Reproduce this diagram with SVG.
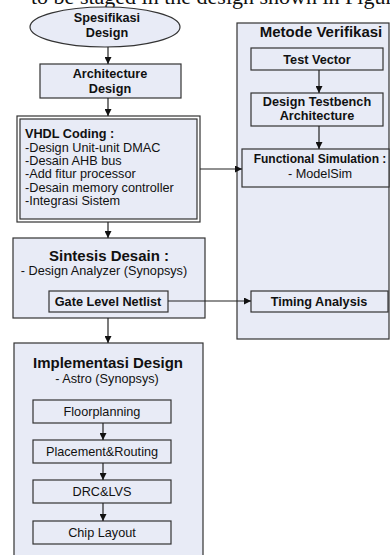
<svg xmlns="http://www.w3.org/2000/svg" width="390" height="555" viewBox="0 0 390 555">
  <style>
    .box { fill: #e8ebf6; stroke: #333333; stroke-width: 1.2; }
    .inner { fill: #e8ebf6; stroke: #333333; stroke-width: 1.2; }
    .t { font-family: "Liberation Sans", Arial, sans-serif; fill: #111111; font-size: 12.7px; }
    .b { font-weight: bold; }
    .c { text-anchor: middle; }
    .h { font-size: 15px; }
    .edge { stroke: #222222; stroke-width: 1.2; fill: none; marker-end: url(#arrow); }
  </style>
  <defs>
    <marker id="arrow" viewBox="0 0 10 10" refX="10" refY="5" markerWidth="7" markerHeight="7" markerUnits="userSpaceOnUse" orient="auto">
      <path d="M0,0 L10,5 L0,10 z" fill="#111111"/>
    </marker>
  </defs>
  <rect width="390" height="555" fill="#ffffff"/>

  <!-- running text line above the figure, cut by the top edge -->
  <text x="31" y="4" font-family="Liberation Serif, serif" font-size="22" fill="#111">to be staged in the design shown in Figure</text>

  <!-- verification column -->
  <g id="metode-verifikasi">
    <rect class="box" x="237" y="23" width="152" height="316"/>
    <text class="t b c h" x="321" y="37">Metode Verifikasi</text>
  </g>
  <g id="test-vector">
    <rect class="inner" x="251" y="48" width="132" height="22"/>
    <text class="t b c" x="317" y="64">Test Vector</text>
  </g>
  <g id="design-testbench">
    <rect class="inner" x="251" y="93" width="132" height="33"/>
    <text class="t b c" x="317" y="106">Design Testbench</text>
    <text class="t b c" x="317" y="120">Architecture</text>
  </g>
  <g id="functional-simulation">
    <rect class="inner" x="242" y="149" width="147" height="38"/>
    <text class="t b c" x="320" y="163" font-size="12" style="font-size:12px">Functional Simulation :</text>
    <text class="t c" x="320" y="178">- ModelSim</text>
  </g>
  <g id="timing-analysis">
    <rect class="inner" x="251" y="291" width="137" height="21"/>
    <text class="t b c" x="319" y="306">Timing Analysis</text>
  </g>

  <!-- design flow -->
  <g id="spesifikasi">
    <ellipse class="box" cx="105" cy="27" rx="75" ry="20"/>
    <text class="t b c" x="107" y="22">Spesifikasi</text>
    <text class="t b c" x="107" y="37">Design</text>
  </g>
  <g id="architecture">
    <rect class="box" x="40" y="64" width="141" height="34"/>
    <text class="t b c" x="110" y="78">Architecture</text>
    <text class="t b c" x="110" y="93">Design</text>
  </g>
  <g id="vhdl-coding">
    <rect x="17" y="116" width="183" height="106" fill="#ffffff" stroke="#333333" stroke-width="1.2"/>
    <rect class="box" x="20" y="119" width="177" height="100"/>
    <text class="t b" x="25" y="138">VHDL Coding :</text>
    <text class="t" x="25" y="152">-Design Unit-unit DMAC</text>
    <text class="t" x="25" y="165">-Desain AHB bus</text>
    <text class="t" x="25" y="178">-Add fitur processor</text>
    <text class="t" x="25" y="192">-Desain memory controller</text>
    <text class="t" x="25" y="205">-Integrasi Sistem</text>
  </g>
  <g id="sintesis">
    <rect class="box" x="13" y="238" width="192" height="80"/>
    <text class="t b c h" x="109" y="261">Sintesis Desain :</text>
    <text class="t c" x="104" y="275">- Design Analyzer (Synopsys)</text>
  </g>
  <g id="gate-level-netlist">
    <rect class="inner" x="49" y="291" width="119" height="21"/>
    <text class="t b c" x="108" y="306">Gate Level Netlist</text>
  </g>
  <g id="implementasi">
    <rect class="box" x="14" y="343" width="189" height="215"/>
    <text class="t b c h" x="108" y="368">Implementasi Design</text>
    <text class="t c" x="107" y="383">- Astro (Synopsys)</text>
  </g>
  <g id="floorplanning">
    <rect class="inner" x="33" y="400" width="138" height="23"/>
    <text class="t c" x="102" y="416">Floorplanning</text>
  </g>
  <g id="placement-routing">
    <rect class="inner" x="33" y="440" width="138" height="23"/>
    <text class="t c" x="102" y="456">Placement&amp;Routing</text>
  </g>
  <g id="drc-lvs">
    <rect class="inner" x="33" y="480" width="138" height="23"/>
    <text class="t c" x="102" y="496">DRC&amp;LVS</text>
  </g>
  <g id="chip-layout">
    <rect class="inner" x="33" y="521" width="138" height="23"/>
    <text class="t c" x="102" y="537">Chip Layout</text>
  </g>

  <g id="connectors">
    <line class="edge" x1="108" y1="47" x2="108" y2="64"/>
    <line class="edge" x1="108" y1="98" x2="108" y2="116"/>
    <line class="edge" x1="108" y1="222" x2="108" y2="238"/>
    <line class="edge" x1="108" y1="318" x2="108" y2="343"/>
    <line class="edge" x1="200" y1="169" x2="242" y2="169"/>
    <line class="edge" x1="168" y1="301" x2="251" y2="301"/>
    <line class="edge" x1="319" y1="70" x2="319" y2="93"/>
    <line class="edge" x1="319" y1="126" x2="319" y2="149"/>
    <line class="edge" x1="103" y1="423" x2="103" y2="440"/>
    <line class="edge" x1="103" y1="463" x2="103" y2="480"/>
    <line class="edge" x1="103" y1="503" x2="103" y2="521"/>
  </g>
</svg>
